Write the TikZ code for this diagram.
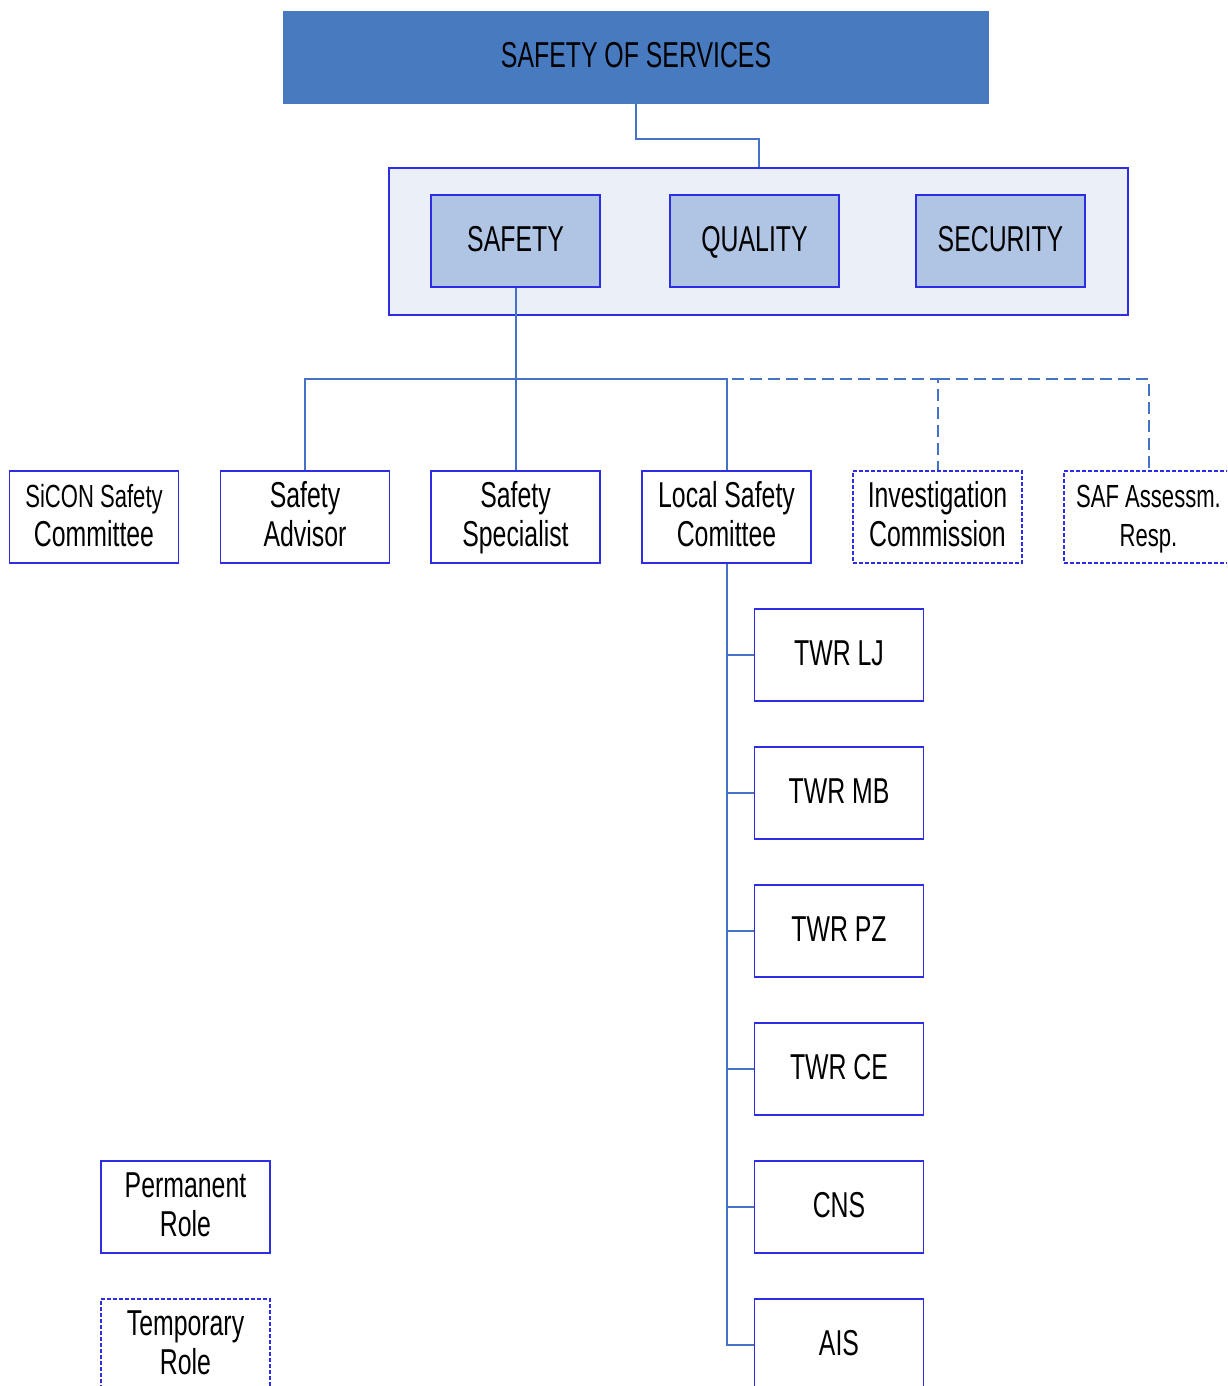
\documentclass[tikz,border=0pt]{standalone}
\usepackage{fontspec}
\setmainfont{Liberation Sans}[FakeStretch=0.69]
\newcommand\fbig{\fontsize{36}{39}\selectfont}
\newcommand\fsmall{\fontsize{32}{39}\selectfont}
\newcommand\mystrut{\rule[-9.1pt]{0pt}{39pt}}
\definecolor{topc}{RGB}{72,122,192}
\definecolor{bordc}{RGB}{45,45,230}
\definecolor{linec}{RGB}{68,114,196}
\definecolor{contc}{RGB}{235,240,248}
\definecolor{subc}{RGB}{176,196,228}
\tikzset{
  box/.style={draw=bordc, line width=1.2pt, minimum width=169pt, minimum height=92pt, inner sep=0pt, align=center, font=\fbig},
  tbox/.style={box, dash pattern=on 4pt off 2pt},
  subbox/.style={box, fill=subc},
  conn/.style={draw=linec, line width=2pt},
  tconn/.style={conn, dash pattern=on 12pt off 6pt},
}
\begin{document}
\begin{tikzpicture}[x=1pt,y=-1pt]
\clip (0,0) rectangle (1227,1386);
\fill[white] (0,0) rectangle (1227,1386);
% top
\node[draw=topc, fill=topc, line width=1.2pt, minimum width=704pt, minimum height=91pt, inner sep=0pt, font=\fbig] (top) at (636,57.5) {\mystrut SAFETY OF SERVICES};
\node[draw=bordc, fill=contc, line width=1.2pt, minimum width=739pt, minimum height=147pt, inner sep=0pt] (cont) at (758.5,241.5) {};
\node[subbox] (safety) at (515.5,241) {\mystrut SAFETY};
\node[subbox] (quality) at (754.5,241) {\mystrut QUALITY};
\node[subbox] (security) at (1000.5,241) {\mystrut SECURITY};
% row 2
\node[box] (sicon) at (94,517) {{\fsmall\mystrut SiCON Safety}\\\mystrut Committee};
\node[box] (adv) at (305,517) {\mystrut Safety\\\mystrut Advisor};
\node[box] (spec) at (515.5,517) {\mystrut Safety\\\mystrut Specialist};
\node[box] (lsc) at (726.5,517) {\mystrut Local Safety\\\mystrut Comittee};
\node[tbox] (inv) at (937.5,517) {\mystrut Investigation\\\mystrut Commission};
\node[tbox, font=\fsmall] (saf) at (1148.5,517) {\mystrut SAF Assessm.\\\mystrut Resp.};
% column
\node[box] (lj) at (839,655) {\mystrut TWR LJ};
\node[box] (mb) at (839,793) {\mystrut TWR MB};
\node[box] (pz) at (839,931) {\mystrut TWR PZ};
\node[box] (ce) at (839,1069) {\mystrut TWR CE};
\node[box] (cns) at (839,1207) {\mystrut CNS};
\node[box] (ais) at (839,1345) {\mystrut AIS};
% legend
\node[box] (perm) at (185.5,1207) {\mystrut Permanent\\\mystrut Role};
\node[tbox] (temp) at (185.5,1345) {\mystrut Temporary\\\mystrut Role};
% connectors
\draw[conn] (top.south) -- ++(0,35) -| (cont.north);
\coordinate (bus) at (515.5,379);
\draw[tconn] (bus) -| (inv.north);
\draw[tconn] (inv.north |- bus) -| (saf.north);
\draw[conn] (safety.south) -- (spec.north);
\draw[conn] (adv.north) -- (adv.north |- bus) -- (lsc.north |- bus) -- (lsc.north);
\draw[conn] (lsc.south) |- (ais.west);
\foreach \n in {lj,mb,pz,ce,cns}{
  \draw[conn] (lsc.south |- \n.west) -- (\n.west);
}
\end{tikzpicture}
\end{document}
